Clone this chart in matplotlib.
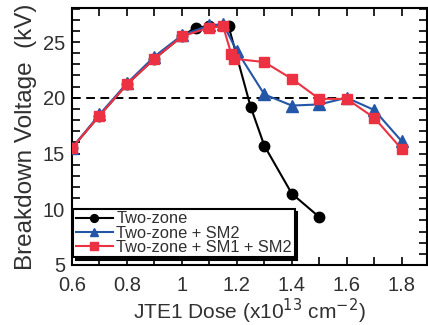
import matplotlib
matplotlib.use("Agg")
import matplotlib.pyplot as plt
from matplotlib.ticker import MultipleLocator

plt.rcParams['font.family'] = ['Liberation Sans', 'DejaVu Sans']

x_two = [0.6, 0.7, 0.8, 0.9, 1.0, 1.05, 1.1, 1.17, 1.25, 1.3, 1.4, 1.5]
y_two = [15.5, 18.4, 21.2, 23.5, 25.5, 26.3, 26.4, 26.4, 19.2, 15.7, 11.4, 9.3]

x_sm2 = [0.6, 0.7, 0.8, 0.9, 1.0, 1.1, 1.15, 1.2, 1.3, 1.4, 1.5, 1.6, 1.7, 1.8]
y_sm2 = [15.5, 18.5, 21.3, 23.7, 25.6, 26.5, 26.6, 24.2, 20.3, 19.3, 19.4, 20.0, 18.9, 16.1]

x_sm12 = [0.6, 0.7, 0.8, 0.9, 1.0, 1.1, 1.15, 1.18, 1.19, 1.3, 1.4, 1.5, 1.6, 1.7, 1.8]
y_sm12 = [15.5, 18.4, 21.2, 23.5, 25.5, 26.3, 26.4, 23.9, 23.5, 23.2, 21.7, 19.9, 19.9, 18.2, 15.4]

labels = ["Two-zone", "Two-zone + SM2", "Two-zone + SM1 + SM2"]
ref_line = 20
xticks = [0.6, 0.8, 1.0, 1.2, 1.4, 1.6, 1.8]
xticklabels = ['0.6', '0.8', '1', '1.2', '1.4', '1.6', '1.8']

fig = plt.figure(figsize=(4.28, 3.25), dpi=100)
ax = fig.add_axes([72/428, 1-265/325, (427-72)/428, (265-8)/325])

tc = '#303030'
ax.plot(x_two, y_two, '-o', color='black', lw=1.5, ms=7.5, label=labels[0], zorder=3)
ax.plot(x_sm2, y_sm2, '-^', color='#2456a8', lw=1.5, ms=8, label=labels[1], zorder=4)
ax.plot(x_sm12, y_sm12, '-s', color='#ec3242', lw=1.5, ms=7.5, label=labels[2], zorder=5)
ax.axhline(ref_line, color='black', ls=(0, (4.5, 2.8)), lw=1.4, zorder=2)

ax.set_xlim(0.6, 1.892)
ax.set_ylim(5, 28.05)
ax.xaxis.set_minor_locator(MultipleLocator(0.1))
ax.yaxis.set_major_locator(MultipleLocator(5))
ax.yaxis.set_minor_locator(MultipleLocator(1))
ax.set_xticks(xticks)
ax.set_xticklabels(xticklabels)
ax.tick_params(which='both', direction='in', top=True, right=True, labelsize=14.5,
               colors='black', labelcolor=tc, width=1.2, length=5.5)
ax.tick_params(axis='x', which='major', pad=8)
ax.tick_params(axis='y', which='major', pad=5)
for s in ax.spines.values():
    s.set_linewidth(1.5)

ax.set_xlabel('JTE1 Dose (x10$^{13}$ cm$^{-2}$)', fontsize=15, color=tc, labelpad=1)
ax.set_ylabel('Breakdown Voltage  (kV)', fontsize=17.5, color=tc, labelpad=4)

leg = ax.legend(loc='lower left', bbox_to_anchor=(0.003, 0.03), fontsize=11.8,
                frameon=True, fancybox=False,
                borderpad=0.15, handlelength=2.3, handletextpad=0.2, labelspacing=-0.05,
                borderaxespad=0.0, shadow={'color': 'black', 'alpha': 1.0, 'ox': 2, 'oy': -2},
                markerscale=0.75)
leg.get_frame().set_edgecolor('black')
leg.get_frame().set_linewidth(1.5)
for t in leg.get_texts():
    t.set_color(tc)

fig.savefig('out.png', dpi=100)
